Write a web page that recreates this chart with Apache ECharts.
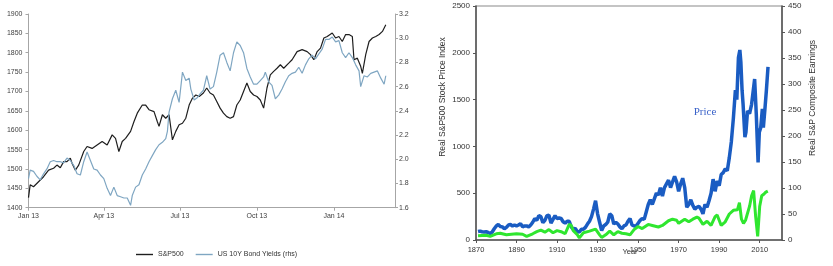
<!DOCTYPE html>
<html><head><meta charset="utf-8">
<script src="https://cdn.jsdelivr.net/npm/echarts@6/dist/echarts.min.js"></script>
<style>html,body{margin:0;padding:0;background:#fff}#c{width:833px;height:266px}</style>
</head><body><div id="c"></div>
<script>
// ---------- Left chart data (S&P500 vs US 10Y yields) ----------
const seriesStart = '2013-01-01';
const quarterTicks = ['2013-01-01','2013-04-01','2013-07-01','2013-10-01','2014-01-01'];
const quarterLabels = ['Jan 13','Apr 13','Jul 13','Oct 13','Jan 14'];
const spxDay = [0,2,6,12,18,24,30,34,38,42,46,50,52,56,60,66,70,76,82,88,94,100,104,108,112,116,122,126,130,136,140,144,150,154,156,160,164,168,172,176,180,184,188,192,196,200,204,209,213,217,221,225,229,233,237,241,245,249,253,257,261,265,269,273,277,281,285,289,293,297,301,305,311,315,321,327,333,337,341,345,349,353,357,363,367,371,375,379,383,387,389,393,397,399,403,407,411,415,419,423,425,427];
const spxValue = [1426,1459,1454,1467,1480,1497,1502,1510,1503,1519,1519,1528,1515,1497,1510,1545,1558,1553,1562,1571,1562,1588,1579,1545,1571,1579,1597,1622,1644,1665,1665,1653,1648,1622,1610,1640,1631,1640,1575,1597,1614,1618,1631,1665,1683,1691,1687,1696,1709,1696,1691,1674,1657,1644,1635,1631,1635,1665,1678,1700,1722,1700,1691,1687,1678,1657,1709,1743,1752,1760,1769,1760,1773,1782,1803,1808,1803,1795,1782,1803,1812,1838,1842,1851,1838,1842,1829,1847,1847,1842,1782,1786,1765,1747,1795,1829,1838,1842,1847,1855,1851,1872];
const ustDay = [0,2,6,10,14,18,22,26,30,34,38,42,46,50,54,58,62,66,70,74,78,82,86,90,94,98,102,106,110,114,118,122,124,128,132,136,140,144,148,152,156,160,164,166,168,172,176,180,184,188,192,194,198,202,205,209,213,217,221,225,229,233,237,241,245,249,253,257,261,265,269,273,277,281,283,287,291,295,299,303,307,311,315,319,323,327,331,335,339,343,347,351,355,359,363,367,371,375,379,383,387,391,395,397,401,405,409,413,417,421,425,427];
const ustValue = [1.84,1.91,1.90,1.86,1.83,1.88,1.92,1.98,1.99,1.98,1.98,1.97,2.01,1.99,1.95,1.88,1.87,1.98,2.06,1.99,1.92,1.91,1.87,1.84,1.76,1.70,1.77,1.70,1.69,1.68,1.68,1.62,1.70,1.77,1.79,1.87,1.92,1.98,2.03,2.08,2.12,2.14,2.17,2.23,2.39,2.50,2.57,2.47,2.72,2.65,2.67,2.58,2.49,2.51,2.54,2.57,2.69,2.58,2.60,2.72,2.86,2.88,2.80,2.73,2.88,2.97,2.94,2.88,2.75,2.68,2.62,2.62,2.65,2.68,2.72,2.64,2.61,2.50,2.53,2.58,2.64,2.69,2.71,2.72,2.76,2.71,2.78,2.83,2.86,2.83,2.87,2.91,2.99,2.99,3.01,2.97,2.98,2.88,2.84,2.88,2.84,2.78,2.73,2.60,2.69,2.68,2.71,2.72,2.73,2.67,2.62,2.69];

// ---------- Right chart data (Real S&P price & earnings) ----------
const decadeTicks = [1870,1890,1910,1930,1950,1970,1990,2010];
const priceYear = [1871,1872,1873,1874,1875,1876,1877,1878,1879,1880,1881,1882,1883,1884,1885,1886,1887,1888,1889,1890,1891,1892,1893,1894,1895,1896,1897,1898,1899,1900,1901,1902,1903,1904,1905,1906,1907,1908,1909,1910,1911,1912,1913,1914,1915,1916,1917,1918,1919,1920,1921,1922,1923,1924,1925,1926,1927,1928,1929,1930,1931,1932,1933,1934,1935,1936,1937,1938,1939,1940,1941,1942,1943,1944,1945,1946,1947,1948,1949,1950,1951,1952,1953,1954,1955,1956,1957,1958,1959,1960,1961,1962,1963,1964,1965,1966,1967,1968,1969,1970,1971,1972,1973,1974,1975,1976,1977,1978,1979,1980,1981,1982,1983,1984,1985,1986,1987,1988,1989,1990,1991,1992,1993,1994,1995,1996,1997,1998,1998.7,1999.5,2000.2,2000.7,2001.3,2001.8,2002.7,2003.2,2004,2005,2006,2007.5,2008.3,2009.2,2009.8,2010.5,2011.3,2011.8,2012.5,2013.3,2014.1];
const priceValue = [90,95,88,85,88,80,70,85,120,150,165,145,140,120,135,160,165,150,160,150,160,175,140,150,150,140,160,190,230,210,260,250,185,210,260,265,180,220,260,230,235,230,195,180,200,200,140,115,125,90,85,115,115,135,170,200,250,330,420,280,190,100,150,165,190,280,260,170,190,170,140,120,150,160,200,230,160,150,150,180,210,230,220,300,380,430,380,440,500,480,560,470,560,600,640,560,620,680,620,520,600,660,560,350,380,430,370,330,350,360,330,280,380,350,420,500,650,520,630,580,700,720,760,740,880,1050,1300,1600,1500,1950,2030,1900,1600,1450,1100,1150,1380,1350,1450,1720,1350,830,1150,1200,1400,1200,1380,1600,1850];
const earnYear = [1871,1875,1877,1880,1882,1885,1890,1893,1895,1898,1900,1902,1904,1906,1908,1910,1912,1914,1916,1917,1918,1920,1921,1923,1926,1929,1931,1932,1934,1936,1938,1940,1942,1944,1946,1948,1950,1952,1955,1957,1960,1962,1965,1967,1969,1970,1973,1975,1977,1979,1980,1982,1984,1986,1988,1989,1991,1993,1995,1997,1999,2000,2001,2002,2003,2005,2006,2007,2008,2009,2010,2011,2012,2013,2014];
const earnValue = [8,9,7,12,13,10,12,11,7,12,16,19,15,20,14,18,16,12,30,28,18,10,4,14,17,21,10,5,10,17,10,16,13,12,10,20,26,22,30,28,25,28,37,40,38,32,40,35,40,44,42,30,36,28,45,48,28,35,50,57,58,72,40,32,38,65,85,95,45,7,65,85,88,92,94];

// ---------- build ----------
const DAY = 86400000;
const t0 = Date.parse(seriesStart);
const spxData = spxDay.map((d, i) => [t0 + d * DAY, spxValue[i]]);
const ustData = ustDay.map((d, i) => [t0 + d * DAY, ustValue[i]]);
const qTs = quarterTicks.map(s => Date.parse(s));
const priceData = priceYear.map((y, i) => [y, priceValue[i]]);
const earnData = earnYear.map((y, i) => [y, earnValue[i]]);

const FONT = 'Liberation Sans';
const leftAxisColor = '#a6a6a6';
const lblL = { color: '#404040', fontSize: 7, fontFamily: FONT };
const lblR = { color: '#333', fontSize: 8, fontFamily: FONT };
const plain = v => String(v);

const chart = echarts.init(document.getElementById('c'), null, { renderer: 'canvas' });
chart.setOption({
  animation: false,
  backgroundColor: '#fff',
  grid: [
    { left: 28.5, top: 14, width: 366.5, height: 193.7 },
    { left: 476, top: 6, width: 306, height: 234, show: true, borderColor: '#8a8a8a', borderWidth: 1.2, backgroundColor: 'transparent' }
  ],
  legend: {
    left: 131, top: 246, itemWidth: 17, itemHeight: 1.4, itemGap: 12, icon: 'rect',
    textStyle: { fontSize: 7, color: '#333', fontFamily: FONT },
    data: ['S&P500', 'US 10Y Bond Yields (rhs)']
  },
  xAxis: [
    {
      type: 'value', gridIndex: 0, min: t0, max: Date.UTC(2014, 2, 15),
      axisLine: { lineStyle: { color: leftAxisColor } },
      axisTick: { show: true, length: 3, lineStyle: { color: leftAxisColor }, customValues: qTs },
      axisLabel: Object.assign({ margin: 5, customValues: qTs,
        formatter: v => { const i = qTs.indexOf(v); return i >= 0 ? quarterLabels[i] : ''; } }, lblL),
      splitLine: { show: false }
    },
    {
      type: 'value', gridIndex: 1, min: 1870, max: 2021,
      axisLine: { lineStyle: { color: '#555', width: 1.5 } },
      axisTick: { show: true, length: 3, lineStyle: { color: '#555' }, customValues: decadeTicks },
      axisLabel: Object.assign({ margin: 6, customValues: decadeTicks, formatter: plain }, lblR, { fontSize: 7.5 }),
      splitLine: { show: false }
    }
  ],
  yAxis: [
    {
      type: 'value', gridIndex: 0, min: 1400, max: 1900, interval: 50,
      axisLine: { show: true, lineStyle: { color: leftAxisColor } },
      axisTick: { show: true, length: 3, lineStyle: { color: leftAxisColor } },
      axisLabel: Object.assign({ margin: 6, formatter: plain }, lblL),
      splitLine: { show: false }
    },
    {
      type: 'value', gridIndex: 0, position: 'right', min: 1.6, max: 3.2, interval: 0.2,
      axisLine: { show: true, lineStyle: { color: leftAxisColor } },
      axisTick: { show: true, length: 3, lineStyle: { color: leftAxisColor } },
      axisLabel: Object.assign({ margin: 4, formatter: v => v.toFixed(1) }, lblL),
      splitLine: { show: false }
    },
    {
      type: 'value', gridIndex: 1, min: 0, max: 2500, interval: 500,
      axisLine: { show: true, lineStyle: { color: '#555', width: 1.5 } },
      axisTick: { show: true, length: 3, lineStyle: { color: '#555' } },
      axisLabel: Object.assign({ margin: 6, formatter: plain }, lblR),
      splitLine: { show: false }
    },
    {
      type: 'value', gridIndex: 1, position: 'right', min: 0, max: 450, interval: 50,
      axisLine: { show: true, lineStyle: { color: '#555', width: 1.5 } },
      axisTick: { show: true, length: 3, lineStyle: { color: '#555' } },
      axisLabel: Object.assign({ margin: 6, formatter: plain }, lblR),
      splitLine: { show: false }
    }
  ],
  series: [
    { name: 'S&P500', type: 'line', xAxisIndex: 0, yAxisIndex: 0, data: spxData, symbol: 'none',
      lineStyle: { color: '#1e1e1e', width: 1.2 }, itemStyle: { color: '#1e1e1e' } },
    { name: 'US 10Y Bond Yields (rhs)', type: 'line', xAxisIndex: 0, yAxisIndex: 1, data: ustData, symbol: 'none',
      lineStyle: { color: '#7fa6c2', width: 1.2 }, itemStyle: { color: '#7fa6c2' } },
    { name: 'Price', type: 'line', xAxisIndex: 1, yAxisIndex: 2, data: priceData, symbol: 'none',
      lineStyle: { color: '#1a5cc2', width: 3.5 }, itemStyle: { color: '#1a5cc2' } },
    { name: 'Earnings', type: 'line', xAxisIndex: 1, yAxisIndex: 3, data: earnData, symbol: 'none',
      lineStyle: { color: '#2fe62f', width: 3 }, itemStyle: { color: '#2fe62f' } }
  ],
  graphic: [
    { type: 'text', x: 443, y: 97, rotation: Math.PI / 2,
      style: { text: 'Real S&P500 Stock Price Index', fontSize: 8.5, fontFamily: FONT, fill: '#333', align: 'center', verticalAlign: 'middle' } },
    { type: 'text', x: 813, y: 98, rotation: Math.PI / 2,
      style: { text: 'Real S&P Composite Earnings', fontSize: 8.5, fontFamily: FONT, fill: '#333', align: 'center', verticalAlign: 'middle' } },
    { type: 'text', x: 630, y: 252,
      style: { text: 'Year', fontSize: 7.5, fontFamily: FONT, fill: '#333', align: 'center', verticalAlign: 'middle' } },
    { type: 'text', x: 705, y: 112,
      style: { text: 'Price', fontSize: 11, fontFamily: 'Liberation Serif', fill: '#3b63c9', align: 'center', verticalAlign: 'middle' } }
  ]
});
</script></body></html>
